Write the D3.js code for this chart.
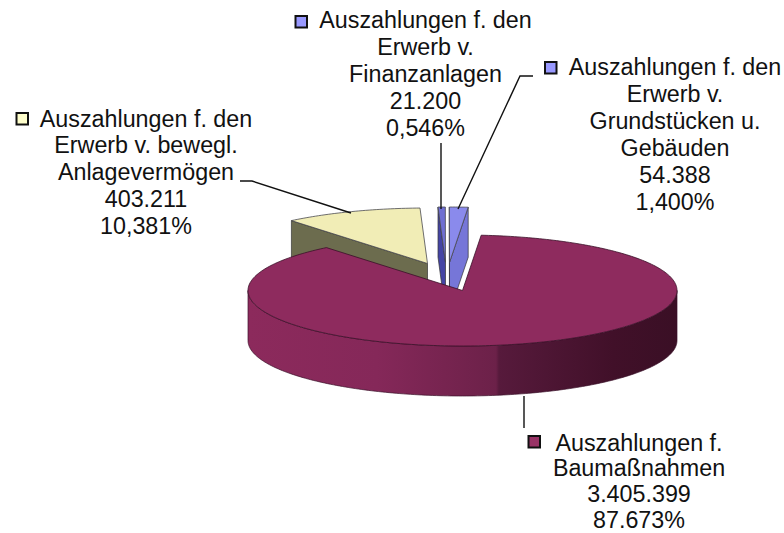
<!DOCTYPE html>
<html><head><meta charset="utf-8">
<script src="https://cdn.jsdelivr.net/npm/d3@7"></script>
<style>html,body{margin:0;padding:0;background:#fff}svg{display:block}text{font-family:"Liberation Sans",Arial,sans-serif;font-size:23.3px;fill:#111}</style>
</head><body><svg id="c" width="784" height="533"></svg>
<script>
const categories=["Auszahlungen f. Baumaßnahmen","Auszahlungen f. den Erwerb v. bewegl. Anlagevermögen","Auszahlungen f. den Erwerb v. Finanzanlagen","Auszahlungen f. den Erwerb v. Grundstücken u. Gebäuden"];
const values=[3405399,403211,21200,54388];
const valueLabels=["3.405.399","403.211","21.200","54.388"];
const percentLabels=["87.673%","10,381%","0,546%","1,400%"];
const labelLines=[["Auszahlungen f.","Baumaßnahmen"],["Auszahlungen f. den","Erwerb v. bewegl.","Anlagevermögen"],["Auszahlungen f. den","Erwerb v.","Finanzanlagen"],["Auszahlungen f. den","Erwerb v.","Grundstücken u.","Gebäuden"]];
const topColors=["#8e2b5e","#f1edb6","#6f6fd2","#8a8aec"];
const wallColors=["url(#wall)","#6c6c4e","#4444a4","#7676d8"];
const keyColors=["#993366","#ffffcc","#9999ff","#9999ff"];

const svg=d3.select("#c");
const cx=462.5,cy=290.5,rx=214.5,ry=55.5,depth=50;
const offsets=[[0,0],[-35,-27],[-17,-28],[-13,-28]];
const deg=Math.PI/180;
const pie=d3.pie().sort(null).startAngle(5*deg).endAngle(365*deg);
const arcs=pie(values);

const defs=svg.append("defs");
const g=defs.append("linearGradient").attr("id","wall").attr("gradientUnits","userSpaceOnUse").attr("x1",cx-rx).attr("x2",cx+rx).attr("y1",0).attr("y2",0);
[[0,"#8c2a5c"],[.3,"#852859"],[.578,"#6c2149"],[.585,"#571a3c"],[.85,"#411029"],[1,"#3a0f25"]].forEach(s=>g.append("stop").attr("offset",s[0]).attr("stop-color",s[1]));

const pt=(i,a,r=1,z=0)=>[cx+offsets[i][0]+rx*r*Math.sin(a),cy+offsets[i][1]-ry*r*Math.cos(a)+z];
const sampleArc=(i,a0,a1,z)=>{const n=Math.max(2,Math.ceil(Math.abs(a1-a0)/deg));return d3.range(n+1).map(k=>pt(i,a0+(a1-a0)*k/n,1,z));};
const line=d3.line();

function drawSlice(i){
  const a0=arcs[i].startAngle,a1=arcs[i].endAngle;
  const G=svg.append("g");
  const wallStroke=i===0?"#3a1028":"#333";
  [[a0,a0-Math.PI/2],[a1,a1+Math.PI/2]].forEach(([a,n])=>{
    if(Math.cos(n)<0){
      G.append("path").attr("d",line([pt(i,a,0),pt(i,a,1),pt(i,a,1,depth),pt(i,a,0,depth)])+"Z")
       .attr("fill",wallColors[i]).attr("stroke",wallStroke).attr("stroke-width",.7);
    }
  });
  for(const turn of [0,2*Math.PI]){
    const s=Math.max(a0,Math.PI/2+turn),e=Math.min(a1,1.5*Math.PI+turn);
    if(e>s){
      G.append("path").attr("d",line([...sampleArc(i,s,e,0),...sampleArc(i,e,s,depth)])+"Z")
       .attr("fill",wallColors[i]).attr("stroke",wallStroke).attr("stroke-width",.7);
    }
  }
  G.append("path").attr("d",line([pt(i,0,0),...sampleArc(i,a0,a1,0)])+"Z")
   .attr("fill",topColors[i]).attr("stroke",i===0?"#3a1028":"#4a4a50").attr("stroke-width",.8);
}
[1,2,3,0].forEach(drawSlice);

const leaders=[[[524,396],[524,428]],[[240,181],[252,181],[351,213]],[[441,143],[441,209]],[[533,76],[520,76],[458,209]]];
svg.append("g").selectAll("path").data(leaders).join("path").attr("d",d=>line(d)).attr("fill","none").attr("stroke","#111").attr("stroke-width",1.4);

const labelPos=[{x:639,y:450.5,h:25.8,kx:528.5,ky:436},{x:146,y:126.5,h:26.95,kx:16.5,ky:113},{x:425.5,y:28,h:26.95,kx:295.5,ky:16},{x:675,y:75,h:26.95,kx:545,ky:62}];
labelPos.forEach((p,i)=>{
  const lines=[...labelLines[i],valueLabels[i],percentLabels[i]];
  svg.append("rect").attr("x",p.kx).attr("y",p.ky).attr("width",11.5).attr("height",11.5).attr("fill",keyColors[i]).attr("stroke","#111").attr("stroke-width",2);
  svg.append("g").selectAll("text").data(lines).join("text").attr("x",p.x).attr("y",(d,k)=>p.y+k*p.h).attr("text-anchor","middle").text(d=>d);
});
</script></body></html>
